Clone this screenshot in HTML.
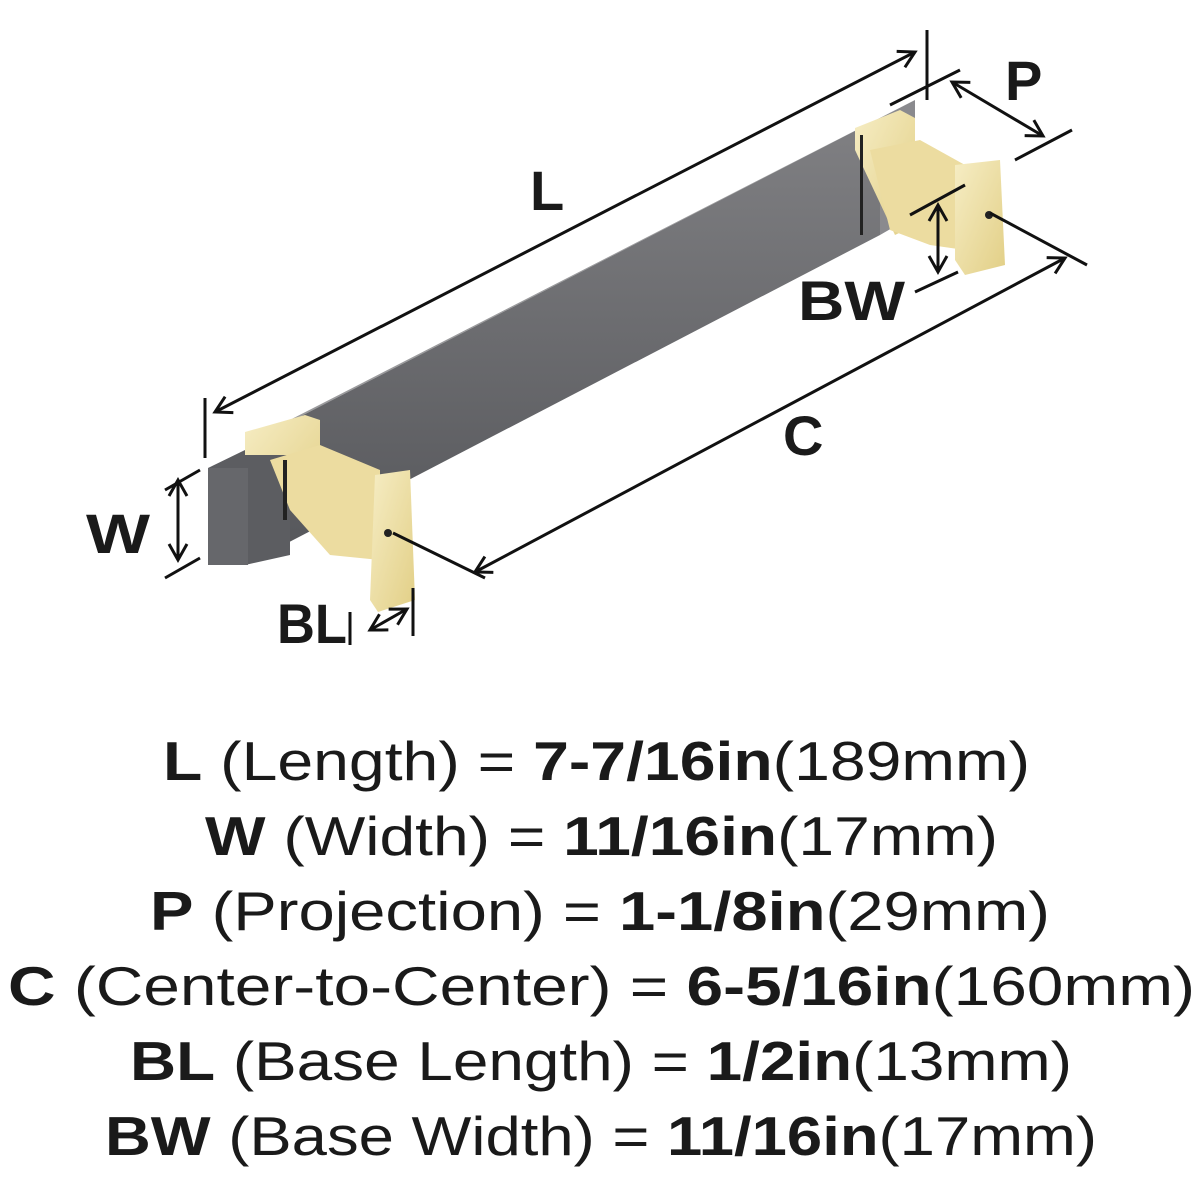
<!DOCTYPE html>
<html><head><meta charset="utf-8"><style>
html,body{margin:0;padding:0;background:#fff;}
svg{display:block;}
text{font-family:"Liberation Sans",sans-serif;fill:#1a1a1a;}
</style></head><body>
<svg width="1200" height="1200" viewBox="0 0 1200 1200" xmlns="http://www.w3.org/2000/svg">
<defs>
<marker id="a" markerWidth="22" markerHeight="22" refX="18" refY="11" orient="auto-start-reverse" markerUnits="userSpaceOnUse">
<path d="M2,2 L18,11 L2,20" fill="none" stroke="#111" stroke-width="3"/>
</marker>
<linearGradient id="bar" x1="0" y1="0" x2="0" y2="1">
<stop offset="0" stop-color="#808083"/><stop offset="1" stop-color="#55565a"/>
</linearGradient>
<linearGradient id="gold" x1="0" y1="0" x2="1" y2="1">
<stop offset="0" stop-color="#f6edc4"/><stop offset="1" stop-color="#e2cf86"/>
</linearGradient>
</defs>

<!-- bar -->
<polygon points="245,445 880,118 915,100 280,425" fill="#9a9a9c"/>
<polygon points="245,445 880,118 880,235 245,565" fill="url(#bar)"/>
<polygon points="880,118 915,100 915,215 880,235" fill="#8a8a8e"/>
<!-- left end cap -->
<polygon points="208,468 245,450 290,455 290,555 245,565 210,565" fill="#5c5d61"/>
<rect x="208" y="468" width="40" height="97" fill="#66676b"/>

<!-- left post -->
<polygon points="245,432 305,415 320,420 320,500 290,510 290,455 245,455" fill="url(#gold)"/>
<polygon points="270,460 320,445 380,470 380,560 330,555 290,510" fill="#ecdca0"/>
<polygon points="375,475 410,470 415,600 378,612 370,600" fill="url(#gold)"/>
<rect x="283" y="460" width="4" height="60" fill="#222"/>
<circle cx="388" cy="533" r="4" fill="#222"/>

<!-- right post -->
<polygon points="855,128 900,110 915,118 915,225 895,235 855,150" fill="url(#gold)"/>
<polygon points="870,150 920,140 965,165 965,250 930,245 890,230" fill="#ecdca0"/>
<polygon points="955,165 1000,160 1005,265 965,275 955,260" fill="url(#gold)"/>
<rect x="860" y="135" width="3" height="100" fill="#222"/>
<circle cx="989" cy="215" r="4" fill="#222"/>

<!-- dimension lines -->
<g stroke="#111" stroke-width="3" fill="none">
<line x1="215" y1="412" x2="915" y2="52" marker-start="url(#a)" marker-end="url(#a)"/>
<line x1="205" y1="398" x2="205" y2="458"/>
<line x1="927" y1="30" x2="927" y2="100"/>
<line x1="890" y1="105" x2="960" y2="70"/>
<line x1="952" y1="82" x2="1043" y2="136" marker-start="url(#a)" marker-end="url(#a)"/>
<line x1="1015" y1="160" x2="1072" y2="130"/>
<line x1="910" y1="215" x2="965" y2="185"/>
<line x1="938" y1="205" x2="938" y2="272" marker-start="url(#a)" marker-end="url(#a)"/>
<line x1="915" y1="292" x2="958" y2="272"/>
<line x1="990" y1="213" x2="1087" y2="265"/>
<line x1="475" y1="572" x2="1065" y2="258" marker-start="url(#a)" marker-end="url(#a)"/>
<line x1="393" y1="533" x2="485" y2="578"/>
<line x1="165" y1="490" x2="200" y2="470"/>
<line x1="178" y1="480" x2="178" y2="560" marker-start="url(#a)" marker-end="url(#a)"/>
<line x1="165" y1="578" x2="200" y2="558"/>
<line x1="370" y1="630" x2="407" y2="609" marker-start="url(#a)" marker-end="url(#a)"/>
<line x1="413" y1="588" x2="413" y2="636"/>
<line x1="350" y1="612" x2="350" y2="645"/>
</g>

<!-- dim labels -->
<g font-size="56" font-weight="bold">
<text x="530" y="210">L</text>
<text x="1005" y="100">P</text>
<text x="798" y="320" textLength="107" lengthAdjust="spacingAndGlyphs">BW</text>
<text x="783" y="455">C</text>
<text x="86" y="553" textLength="64" lengthAdjust="spacingAndGlyphs">W</text>
<text x="277" y="643" textLength="70" lengthAdjust="spacingAndGlyphs">BL</text>
</g>

<!-- spec list -->
<g font-size="55">
<text x="163" y="780" textLength="867" lengthAdjust="spacingAndGlyphs"><tspan font-weight="bold">L</tspan> (Length) = <tspan font-weight="bold">7-7/16in</tspan>(189mm)</text>
<text x="205" y="855" textLength="793" lengthAdjust="spacingAndGlyphs"><tspan font-weight="bold">W</tspan> (Width) = <tspan font-weight="bold">11/16in</tspan>(17mm)</text>
<text x="150" y="930" textLength="900" lengthAdjust="spacingAndGlyphs"><tspan font-weight="bold">P</tspan> (Projection) = <tspan font-weight="bold">1-1/8in</tspan>(29mm)</text>
<text x="8" y="1005" textLength="1187" lengthAdjust="spacingAndGlyphs"><tspan font-weight="bold">C</tspan> (Center-to-Center) = <tspan font-weight="bold">6-5/16in</tspan>(160mm)</text>
<text x="130" y="1080" textLength="942" lengthAdjust="spacingAndGlyphs"><tspan font-weight="bold">BL</tspan> (Base Length) = <tspan font-weight="bold">1/2in</tspan>(13mm)</text>
<text x="105" y="1155" textLength="992" lengthAdjust="spacingAndGlyphs"><tspan font-weight="bold">BW</tspan> (Base Width) = <tspan font-weight="bold">11/16in</tspan>(17mm)</text>
</g>
</svg>
</body></html>
